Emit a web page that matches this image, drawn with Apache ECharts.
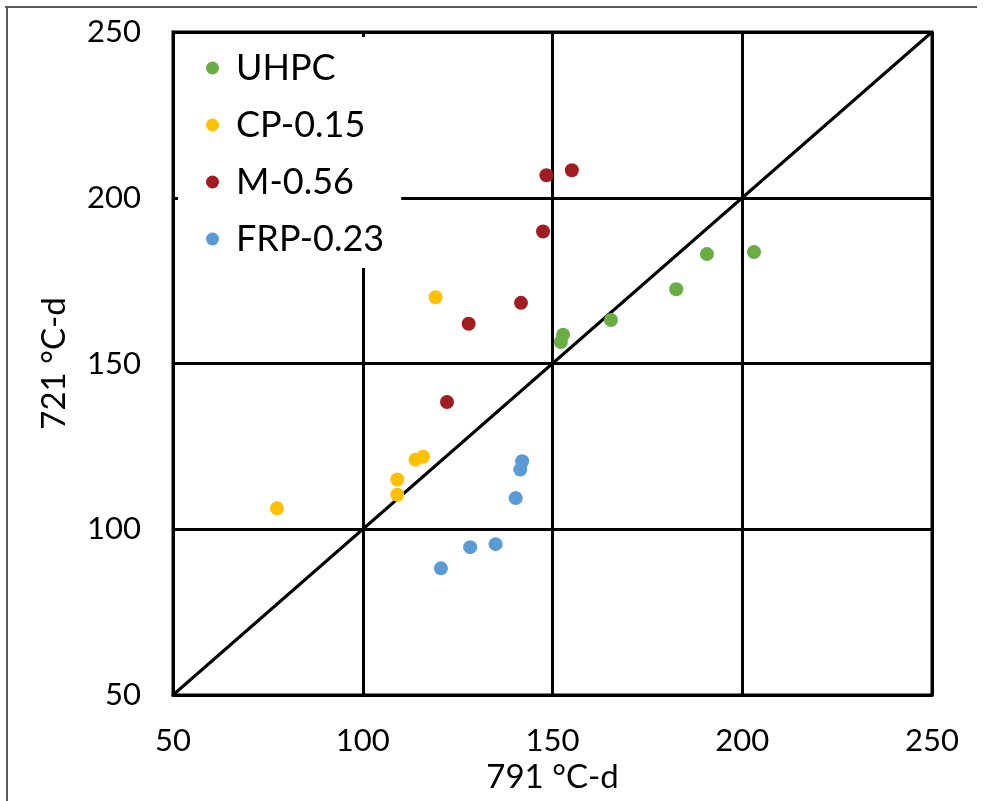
<!DOCTYPE html>
<html>
<head>
<meta charset="utf-8">
<script src="https://cdn.jsdelivr.net/npm/echarts@6/dist/echarts.min.js"></script>
<style>html,body{margin:0;padding:0;background:#fff;}#c{width:987px;height:801px;}</style>
</head>
<body>
<div id="c"></div>
<script>
var seriesNames = ['UHPC', 'CP-0.15', 'M-0.56', 'FRP-0.23'];
var uhpc = [[152.2,156.5],[152.8,158.7],[165.4,163.1],[182.6,172.4],[190.7,183.0],[203.1,183.6]];
var cp015 = [[77.4,106.3],[109.1,115.0],[109.1,110.4],[113.9,121.0],[115.9,121.9],[119.2,170.0]];
var m056 = [[148.4,206.8],[155.1,208.3],[147.5,189.8],[141.7,168.3],[127.9,162.0],[122.2,138.4]];
var frp023 = [[142.0,120.5],[141.5,118.0],[140.3,109.4],[135.0,95.5],[128.3,94.6],[120.6,88.2]];
var lineOfEquality = [[50,50],[250,250]];
var xTitle = '791 °C-d';
var yTitle = '721 °C-d';

var colors = ['#6AAD45', '#FFC000', '#A21D21', '#5B9BD5'];
var font = 'Lato, "Open Sans", sans-serif';
var chart = echarts.init(document.getElementById('c'));
function sc(name, data, color) {
  return {name: name, type: 'scatter', data: data, symbolSize: 14,
    itemStyle: {color: color, opacity: 1}, z: 3};
}
chart.setOption({
  animation: false,
  backgroundColor: '#fff',
  graphic: [
    {type: 'line', shape: {x1: 5, y1: 7, x2: 977, y2: 7}, style: {stroke: '#595959', lineWidth: 2}},
    {type: 'line', shape: {x1: 7, y1: 7, x2: 7, y2: 801}, style: {stroke: '#595959', lineWidth: 2}}
  ],
  grid: {left: 173, top: 32, right: 55, bottom: 106, show: true, borderColor: '#000', borderWidth: 3, backgroundColor: 'transparent'},
  legend: {
    data: seriesNames, orient: 'vertical', left: 178, top: 37,
    backgroundColor: '#fff', padding: [11, 17, 9, 28],
    icon: 'circle', itemWidth: 13, itemHeight: 13, itemGap: 17, itemTextGap: 18,
    textStyle: {fontFamily: font, fontSize: 36, color: '#000', lineHeight: 40, padding: [0, 0, 0, 12]}
  },
  xAxis: {
    type: 'value', min: 50, max: 250, interval: 50,
    name: xTitle, nameLocation: 'middle', nameGap: 66,
    nameTextStyle: {fontFamily: font, fontSize: 33, color: '#000'},
    axisLine: {show: true, lineStyle: {color: '#000', width: 3}},
    axisTick: {show: false},
    axisLabel: {fontFamily: font, fontSize: 31, color: '#000', margin: 30},
    splitLine: {show: true, lineStyle: {color: '#000', width: 3}}
  },
  yAxis: {
    type: 'value', min: 50, max: 250, interval: 50,
    name: yTitle, nameLocation: 'middle', nameGap: 102,
    nameTextStyle: {fontFamily: font, fontSize: 33, color: '#000'},
    axisLine: {show: true, lineStyle: {color: '#000', width: 3}},
    axisTick: {show: false},
    axisLabel: {fontFamily: font, fontSize: 31, color: '#000', margin: 32},
    splitLine: {show: true, lineStyle: {color: '#000', width: 3}}
  },
  series: [
    {name: 'equality', type: 'line', data: lineOfEquality, symbol: 'none',
      lineStyle: {color: '#000', width: 3}, z: 2, silent: true},
    sc(seriesNames[0], uhpc, colors[0]),
    sc(seriesNames[1], cp015, colors[1]),
    sc(seriesNames[2], m056, colors[2]),
    sc(seriesNames[3], frp023, colors[3])
  ]
});
</script>
</body>
</html>
